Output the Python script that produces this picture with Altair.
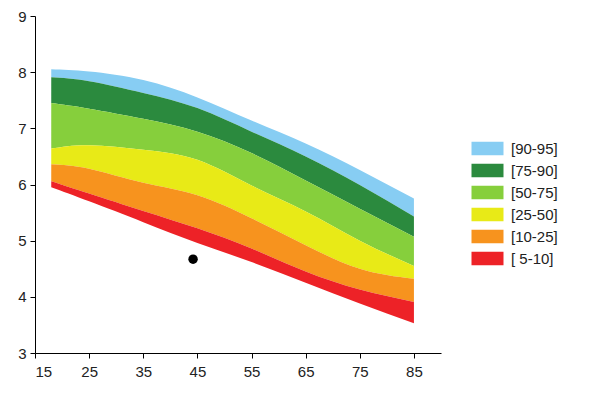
import altair as alt
import pandas as pd

ages = [18, 25, 35, 45, 55, 65, 75, 85]
p5 = [5.95, 5.70, 5.33, 4.96, 4.62, 4.25, 3.88, 3.53]
p10 = [6.06, 5.84, 5.53, 5.22, 4.86, 4.45, 4.13, 3.91]
p25 = [6.36, 6.28, 6.03, 5.81, 5.40, 4.92, 4.50, 4.32]
p50 = [6.64, 6.70, 6.62, 6.44, 5.98, 5.52, 5.00, 4.55]
p75 = [7.45, 7.35, 7.17, 6.94, 6.56, 6.07, 5.57, 5.07]
p90 = [7.91, 7.84, 7.63, 7.36, 6.94, 6.50, 5.99, 5.43]
p95 = [8.05, 8.01, 7.86, 7.55, 7.14, 6.73, 6.26, 5.75]

band_labels = ["[90-95]", "[75-90]", "[50-75]", "[25-50]", "[10-25]", "[ 5-10]"]
band_colors = ["#87cdf3", "#2b8a3e", "#86cf3c", "#e8ea17", "#f7931e", "#ed2227"]

point_age = [44.2]
point_value = [4.67]

bounds = [p95, p90, p75, p50, p25, p10, p5]
rows = []
for i, lab in enumerate(band_labels):
    upper = bounds[i]
    lower = bounds[i + 1]
    for a, lo, up in zip(ages, lower, upper):
        rows.append({"age": a, "band": lab, "lower": lo, "upper": up, "order": i})
bands = pd.DataFrame(rows)
pts = pd.DataFrame({"age": point_age, "value": point_value})

xscale = alt.Scale(domain=[15, 90], nice=False, zero=False)
yscale = alt.Scale(domain=[3, 9], nice=False, zero=False)

area = alt.Chart(bands).mark_area(interpolate="natural", opacity=1).encode(
    x=alt.X("age:Q", scale=xscale,
            axis=alt.Axis(values=[15, 25, 35, 45, 55, 65, 75, 85], title=None, format="d",
                          labelPadding=6)),
    y=alt.Y("lower:Q", scale=yscale,
            axis=alt.Axis(values=[3, 4, 5, 6, 7, 8, 9], title=None, format="d")),
    y2="upper:Q",
    color=alt.Color("band:N",
                    scale=alt.Scale(domain=band_labels, range=band_colors),
                    sort=band_labels,
                    legend=alt.Legend(title=None, orient="none", legendX=439, legendY=119,
                                      symbolType="M-1.219,-0.51L1.219,-0.51L1.219,0.51L-1.219,0.51Z",
                                      symbolSize=689, symbolStrokeWidth=0,
                                      symbolOpacity=1,
                                      labelFontSize=15, labelOffset=10,
                                      labelFont="Liberation Sans", labelColor="#222",
                                      rowPadding=0, padding=0)),
    order=alt.Order("order:Q"),
)

dot = alt.Chart(pts).mark_circle(size=90, color="black", opacity=1).encode(
    x="age:Q", y="value:Q"
)

chart = alt.layer(area, dot).properties(
    width=406, height=337,
    autosize=alt.AutoSizeParams(type="none"),
    padding={"left": 27, "top": 8, "right": 150, "bottom": 35},
).configure_view(stroke=None).configure_axis(
    grid=False, domainColor="black", tickColor="black", labelColor="#222",
    labelFont="Liberation Sans", labelFontSize=15, tickSize=5, domainWidth=1, tickWidth=1,
    labelPadding=4,
)

chart.save("out.html", embed_options={"renderer": "svg", "actions": False})
